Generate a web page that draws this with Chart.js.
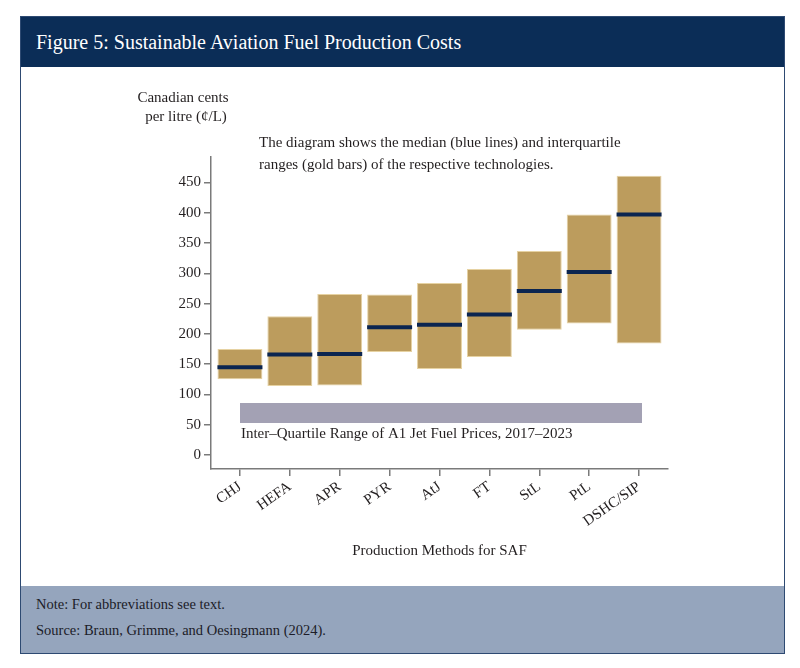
<!DOCTYPE html>
<html>
<head>
<meta charset="utf-8">
<script src="https://cdn.jsdelivr.net/npm/chart.js@4/dist/chart.umd.min.js"></script>
<style>
  body { margin: 0; background: #fff; width: 800px; height: 668px; position: relative; overflow: hidden; font-family: "Liberation Serif", serif; }
  #frame { position: absolute; left: 20px; top: 16px; width: 763px; height: 636px; border: 1.5px solid #2e4a72; background: #fff; }
  #header { position: absolute; left: 0; top: 0; width: 763px; height: 50px; background: #0b2d57; color: #fff; font-size: 20px; line-height: 50px; padding-left: 15px; box-sizing: border-box; }
  #footer { position: absolute; left: 0; top: 569px; width: 763px; height: 67px; background: #95a5bd; color: #1c1c28; font-size: 14.5px; padding-left: 15px; box-sizing: border-box; }
  #footer div { position: absolute; left: 15px; }
  #wrap { position: absolute; left: 0; top: 50px; width: 763px; height: 519px; }
</style>
</head>
<body>
<div id="frame">
  <div id="header">Figure 5: Sustainable Aviation Fuel Production Costs</div>
  <div id="wrap"><canvas id="safChart"></canvas></div>
  <div id="footer">
    <div style="top:10px">Note: For abbreviations see text.</div>
    <div style="top:36px">Source: Braun, Grimme, and Oesingmann (2024).</div>
  </div>
</div>
<script>
// Data (Canadian cents per litre)
const methods = ['CHJ', 'HEFA', 'APR', 'PYR', 'AtJ', 'FT', 'StL', 'PtL', 'DSHC/SIP'];
const lowerQuartile = [125, 114, 115, 170, 142, 162, 207, 217, 184];
const upperQuartile = [175, 229, 266, 265, 284, 307, 337, 397, 461];
const medians = [145, 166, 167, 211, 215, 232, 271, 302, 397];
const jetFuelX = [1, 9.06];      // spans from first to last method
const jetFuelRange = [53, 86];   // inter-quartile range of A1 jet fuel prices
const yTicks = [0, 50, 100, 150, 200, 250, 300, 350, 400, 450];

const gold = '#bc9c5d';
const navy = '#0b2550';
const axisGrey = '#7a7a7a';
const textColor = '#231f20';
const serif = '"Liberation Serif", "DejaVu Serif", serif';

// Texte im Diagramm (y-Titel, Hinweis, Kerosin-Band)
const textPlugin = {
    id: 'textPlugin',
    afterDraw(chart) {
        const ctx = chart.ctx;
        const area = chart.chartArea;
        const x = chart.scales.x;
        const y = chart.scales.y;
        ctx.save();
        ctx.fillStyle = textColor;
        ctx.font = '15px ' + serif;
        ctx.textBaseline = 'middle';

        ctx.textAlign = 'center';
        ctx.fillText('Canadian cents', area.left - 28, area.top - 59);
        ctx.fillText('per litre (¢/L)', area.left - 25, area.top - 40);

        ctx.textAlign = 'left';
        ctx.fillText('The diagram shows the median (blue lines) and interquartile', area.left + 48, area.top - 14);
        ctx.fillText('ranges (gold bars) of the respective technologies.', area.left + 48, area.top + 8);

        ctx.fillText('Inter–Quartile Range of A1 Jet Fuel Prices, 2017–2023', x.getPixelForValue(jetFuelX[0]) + 1, y.getPixelForValue(35));
        ctx.restore();
    }
};

const ctx = document.getElementById('safChart').getContext('2d');
new Chart(ctx, {
    data: {
        datasets: [{
            type: 'bar',
            data: methods.map((m, i) => ({ x: i + 1, y: [lowerQuartile[i], upperQuartile[i]] })),
            backgroundColor: gold,
            borderColor: '#e6d2a2',
            borderWidth: 1,
            borderSkipped: false,
            barPercentage: 0.9,
            categoryPercentage: 1,
            order: 1
        }, {
            type: 'line',
            data: methods.map((m, i) => ({ x: i + 1, y: medians[i] })),
            showLine: false,
            pointStyle: 'line',
            pointRadius: 22.5,
            pointBorderWidth: 4,
            borderColor: navy,
            pointBorderColor: navy,
            order: 0
        }, {
            type: 'line',
            data: jetFuelX.map(v => ({ x: v, y: jetFuelRange[1] })),
            borderWidth: 0,
            pointRadius: 0,
            backgroundColor: '#a3a1b4',
            fill: '+1',
            order: 2
        }, {
            type: 'line',
            data: jetFuelX.map(v => ({ x: v, y: jetFuelRange[0] })),
            borderWidth: 0,
            pointRadius: 0,
            fill: false,
            order: 3
        }]
    },
    options: {
        responsive: true,
        maintainAspectRatio: false,
        animation: false,
        events: [],
        layout: {
            padding: { left: 0, top: 90, right: 116, bottom: 0 }
        },
        scales: {
            x: {
                type: 'linear',
                offset: false,
                min: 0.42,
                max: 9.58,
                afterBuildTicks: (scale) => { scale.ticks = methods.map((m, i) => ({ value: i + 1 })); },
                afterFit: (scale) => { scale.height = 117; },
                grid: { offset: false, drawOnChartArea: false, drawTicks: true, tickLength: 7, color: axisGrey, lineWidth: 1.5 },
                border: { display: true, color: axisGrey, width: 1.5 },
                ticks: {
                    autoSkip: false,
                    minRotation: 35,
                    maxRotation: 35,
                    padding: 2,
                    color: textColor,
                    font: { family: serif, size: 15 },
                    callback: (value, index) => methods[index]
                },
                title: {
                    display: true,
                    text: 'Production Methods for SAF',
                    color: textColor,
                    font: { family: serif, size: 15 },
                    padding: { top: 0, bottom: 26 }
                }
            },
            y: {
                min: -23,
                max: 492,
                afterBuildTicks: (scale) => { scale.ticks = yTicks.map(v => ({ value: v })); },
                afterFit: (scale) => { scale.width = 190; },
                grid: { drawOnChartArea: false, drawTicks: true, tickLength: 7, color: axisGrey, lineWidth: 1.5 },
                border: { display: true, color: axisGrey, width: 1.5 },
                ticks: {
                    padding: 3,
                    color: textColor,
                    font: { family: serif, size: 15 }
                }
            }
        },
        plugins: {
            legend: { display: false },
            tooltip: { enabled: false }
        }
    },
    plugins: [textPlugin]
});
</script>
</body>
</html>
